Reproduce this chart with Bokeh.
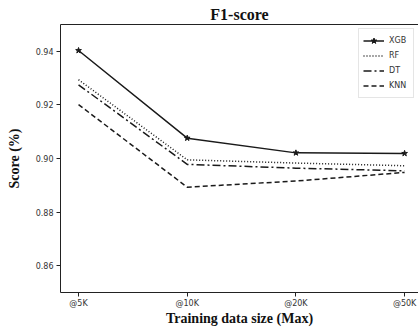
from bokeh.plotting import figure
from bokeh.models import Range1d, FixedTicker, PrintfTickFormatter, LinearAxis, Legend, LegendItem
from bokeh.embed import file_html
from bokeh.resources import INLINE

# ---- data ----
sizes = ["@5K", "@10K", "@20K", "@50K"]
xgb = [0.9403, 0.9076, 0.9021, 0.9019]
rf = [0.9294, 0.8995, 0.8983, 0.8973]
dt = [0.9275, 0.8978, 0.8964, 0.8954]
knn = [0.9201, 0.8893, 0.8916, 0.8948]
y_ticks = [0.86, 0.88, 0.90, 0.92, 0.94]

xs = list(range(len(sizes)))

p = figure(width=418, height=329, output_backend="svg", toolbar_location=None,
           x_range=Range1d(-0.166, 3.128), y_range=Range1d(0.85, 0.95),
           min_border_left=60, min_border_right=0, min_border_top=24, min_border_bottom=37)

p.title.text = "F1-score"
p.title.align = "center"
p.title.text_font = "Liberation Serif"
p.title.text_font_style = "bold"
p.title.text_font_size = "16px"
p.title.text_color = "#111111"
p.title.standoff = 4

p.outline_line_color = None
p.xgrid.visible = False
p.ygrid.visible = False

lc = "#1a1a1a"
r1 = p.line(xs, xgb, line_color=lc, line_width=1.5)
r1m = p.scatter(xs, xgb, marker="star", size=6, fill_color=lc, line_color=lc)
r2 = p.line(xs, rf, line_color=lc, line_width=1.5, line_dash="1 2")
r3 = p.line(xs, dt, line_color=lc, line_width=1.5, line_dash="8 3 2 3")
r4 = p.line(xs, knn, line_color=lc, line_width=1.5, line_dash="5 3")

for ax in (p.xaxis[0], p.yaxis[0]):
    ax.axis_line_color = "#222222"
    ax.major_tick_line_color = "#222222"
    ax.major_tick_out = 4
    ax.major_tick_in = 0
    ax.minor_tick_line_color = None
    ax.major_label_text_font = "DejaVu Sans"
    ax.major_label_text_font_size = "8px"
    ax.major_label_text_color = "#333333"
    ax.axis_label_text_font = "Liberation Serif"
    ax.axis_label_text_font_style = "bold"
    ax.axis_label_text_font_size = "14px"
    ax.axis_label_text_color = "#111111"

p.xaxis.ticker = FixedTicker(ticks=xs)
p.xaxis.major_label_overrides = {i: s for i, s in enumerate(sizes)}
p.xaxis.axis_label = "Training data size (Max)"
p.xaxis.axis_label_standoff = 0
p.xaxis.major_label_standoff = 2

p.yaxis.ticker = FixedTicker(ticks=y_ticks)
p.yaxis.formatter = PrintfTickFormatter(format="%.2f")
p.yaxis.axis_label = "Score (%)"
p.yaxis.axis_label_standoff = 11
p.yaxis.major_label_standoff = 3

top = LinearAxis(ticker=FixedTicker(ticks=[]), major_label_text_font_size="0px",
                 major_tick_line_color=None, minor_tick_line_color=None,
                 major_tick_out=0, major_tick_in=0, major_label_standoff=0,
                 axis_line_color="#222222")
p.add_layout(top, "above")

legend = Legend(items=[
    LegendItem(label="XGB", renderers=[r1, r1m]),
    LegendItem(label="RF", renderers=[r2]),
    LegendItem(label="DT", renderers=[r3]),
    LegendItem(label="KNN", renderers=[r4]),
], location="top_right")
legend.margin = 4
legend.padding = 4
legend.spacing = 0
legend.label_height = 15
legend.glyph_height = 15
legend.glyph_width = 21
legend.label_text_font = "DejaVu Sans"
legend.label_text_font_size = "8px"
legend.label_text_color = "#333333"
legend.border_line_color = "#cccccc"
legend.background_fill_alpha = 1.0
p.add_layout(legend)

open("out.html", "w").write(file_html(p, INLINE))
